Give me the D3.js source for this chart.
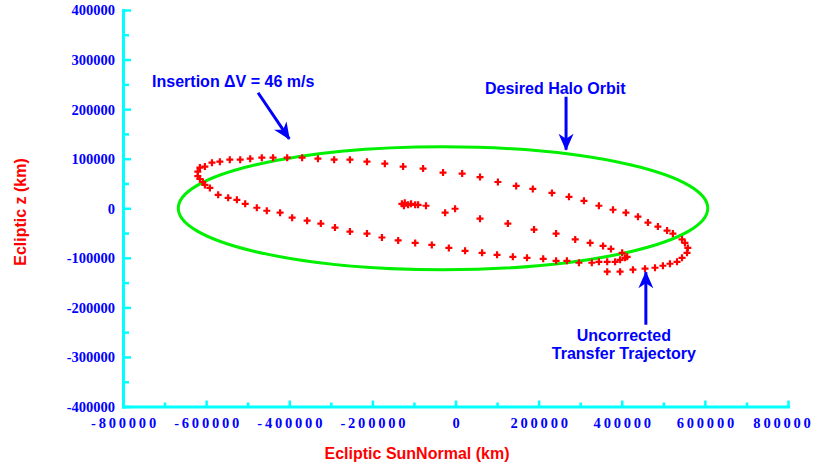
<!DOCTYPE html>
<html>
<head>
<meta charset="utf-8">
<script src="https://cdn.jsdelivr.net/npm/d3@7"></script>
<style>
  html, body { margin: 0; padding: 0; background: #fff; }
  svg { display: block; }
</style>
</head>
<body>
<div id="chart"></div>
<script>
// --- data (km) ---
const xTicks = [-800000, -600000, -400000, -200000, 0, 200000, 400000, 600000, 800000];
const xMinorTicks = [-700000, -500000, -300000, -100000, 100000, 300000, 500000, 700000];
const yTicks = [-400000, -300000, -200000, -100000, 0, 100000, 200000, 300000, 400000];
const yMinorTicks = [-350000, -250000, -150000, -50000, 50000, 150000, 250000, 350000];

// departure leg, from the insertion point outwards
const departX = [-129000, -122000, -114000, -107000, -124000, -97000, -90000, -71000, -25000, -1000,
  59000, 126000, 189000, 242000, 288000, 324000, 355000, 374000, 401000, 413000];
const departZ = [9000, 11000, 7000, 9000, 5000, 7000, 7000, 5000, -9000, -1000,
  -21000, -31000, -43000, -51000, -63000, -70000, -76000, -82000, -90000, -98000];

// far side loop + upper arc back to the left
const loopX = [365000, 396000, 427000, 456000, 480000, 499000, 516000, 533000, 545000, 557000,
  559000, 552000, 545000, 523000, 509000, 487000, 463000, 439000, 410000, 379000,
  345000, 309000, 273000, 232000, 186000, 146000, 102000, 59000, 16000, -30000,
  -78000, -126000, -170000, -213000, -254000, -292000, -331000, -369000, -405000, -439000,
  -466000, -494000, -518000, -543000, -567000, -586000, -603000, -615000, -620000, -620000,
  -615000, -608000];
const loopZ = [-128000, -128000, -124000, -122000, -120000, -116000, -112000, -108000, -100000, -90000,
  -80000, -70000, -63000, -51000, -45000, -37000, -29000, -17000, -9000, -3000,
  5000, 15000, 23000, 31000, 39000, 45000, 53000, 63000, 70000, 72000,
  80000, 84000, 90000, 94000, 98000, 98000, 100000, 102000, 102000, 102000,
  102000, 100000, 98000, 98000, 94000, 92000, 84000, 82000, 74000, 65000,
  59000, 53000];

// lower arc going right again
const returnX = [-603000, -591000, -571000, -547000, -526000, -506000, -478000, -454000, -422000, -393000,
  -357000, -324000, -290000, -254000, -213000, -177000, -138000, -97000, -57000, -16000,
  23000, 64000, 100000, 138000, 172000, 211000, 242000, 268000, 297000, 328000,
  345000, 365000, 384000, 396000, 408000];
const returnZ = [47000, 41000, 27000, 21000, 17000, 9000, 1000, -5000, -9000, -19000,
  -25000, -31000, -39000, -47000, -51000, -59000, -65000, -70000, -74000, -80000,
  -86000, -90000, -94000, -98000, -100000, -102000, -106000, -106000, -110000, -110000,
  -108000, -108000, -108000, -104000, -100000];

// desired halo orbit (ellipse)
const haloCenter = [-30000, 0];
const haloRadius = [637000, 124000];

// annotations, anchored in data space
const notes = [
  { lines: ['Insertion \u0394V = 46 m/s'], x: -730000, y: 245000, anchor: 'start',
    arrow: [[-475000, 233000], [-400000, 140000]] },
  { lines: ['Desired Halo Orbit'], x: 240000, y: 231000, anchor: 'middle',
    arrow: [[266000, 225000], [266000, 118000]] },
  { lines: ['Uncorrected', 'Transfer Trajectory'], x: 405000, y: -268000, anchor: 'middle',
    arrow: [[458000, -235000], [458000, -129000]] }
];

const W = 817, H = 465;
const CYAN = '#00FFFF', BLUE = '#0000FF', RED = '#FF0000', GREEN = '#00F000';

const svg = d3.select('#chart').append('svg')
  .attr('width', W).attr('height', H);

svg.append('rect').attr('width', W).attr('height', H).attr('fill', '#fff');

const x = d3.scaleLinear().domain([-800000, 800000]).range([123, 788]);
const y = d3.scaleLinear().domain([-400000, 400000]).range([406.5, 10]);

const defs = svg.append('defs');
defs.append('marker')
  .attr('id', 'arrowhead')
  .attr('viewBox', '-18 -9 20 18')
  .attr('refX', 0).attr('refY', 0)
  .attr('markerWidth', 20).attr('markerHeight', 18)
  .attr('markerUnits', 'userSpaceOnUse')
  .attr('orient', 'auto')
  .append('path')
  .attr('d', 'M1,0 L-16,-7.5 L-11,0 L-16,7.5 Z')
  .attr('fill', BLUE);

// --- halo orbit ---
svg.append('ellipse')
  .attr('cx', x(haloCenter[0]))
  .attr('cy', y(haloCenter[1]))
  .attr('rx', x(haloCenter[0] + haloRadius[0]) - x(haloCenter[0]))
  .attr('ry', y(haloCenter[1]) - y(haloCenter[1] + haloRadius[1]))
  .attr('fill', 'none')
  .attr('stroke', GREEN)
  .attr('stroke-width', 3);

// --- trajectory points ---
const legs = [[departX, departZ], [loopX, loopZ], [returnX, returnZ]];
const pts = [];
legs.forEach(([xs, zs]) => xs.forEach((v, i) => pts.push({ x: v, z: zs[i] })));

svg.append('g')
  .selectAll('path')
  .data(pts)
  .join('path')
  .attr('transform', d => `translate(${x(d.x)},${y(d.z)})`)
  .attr('d', 'M-3.5,0H3.5M0,-3.5V3.5')
  .attr('stroke', RED)
  .attr('stroke-width', 2.2)
  .attr('fill', 'none');

// --- axes ---
const plainNum = d => String(d); // hyphen minus, like the original

const xAxis = svg.append('g')
  .attr('transform', `translate(0,${y(-400000)})`)
  .call(d3.axisBottom(x).tickValues(xTicks).tickSize(-6).tickSizeOuter(0).tickFormat(plainNum));
svg.append('g')
  .attr('transform', `translate(0,${y(-400000)})`)
  .call(d3.axisBottom(x).tickValues(xMinorTicks).tickSize(-4).tickSizeOuter(0).tickFormat(''))
  .call(g => g.select('.domain').remove());

const yAxis = svg.append('g')
  .attr('transform', `translate(${x(-800000)},0)`)
  .call(d3.axisLeft(y).tickValues(yTicks).tickSize(-8).tickSizeOuter(0).tickPadding(8)
    .tickFormat(plainNum));
svg.append('g')
  .attr('transform', `translate(${x(-800000)},0)`)
  .call(d3.axisLeft(y).tickValues(yMinorTicks).tickSize(-6).tickSizeOuter(0).tickFormat(''))
  .call(g => g.select('.domain').remove());

svg.selectAll('.tick line').attr('stroke', CYAN).attr('stroke-width', 2.5);
[xAxis, yAxis].forEach(a => a.select('.domain')
  .attr('stroke', CYAN).attr('stroke-width', 3).attr('stroke-linecap', 'square'));

svg.selectAll('.tick text')
  .attr('fill', BLUE)
  .style('font-family', '"Liberation Serif", "Times New Roman", serif')
  .style('font-weight', 'bold')
  .style('font-size', '14.5px');

xAxis.selectAll('.tick text')
  .attr('y', 21).attr('dy', 0)
  .attr('dx', d => d === 800000 ? -5 : 1.5)
  .style('letter-spacing', '2.8px');

yAxis.selectAll('.tick text').attr('dy', '0.34em');

// --- axis titles ---
const sans = '"Liberation Sans", Arial, Helvetica, sans-serif';
svg.append('text')
  .attr('x', 417).attr('y', 459)
  .attr('text-anchor', 'middle')
  .attr('fill', RED)
  .style('font-family', sans).style('font-weight', 'bold').style('font-size', '16px')
  .text('Ecliptic SunNormal (km)');

svg.append('text')
  .attr('transform', 'translate(26,212) rotate(-90)')
  .attr('text-anchor', 'middle')
  .attr('fill', RED)
  .style('font-family', sans).style('font-weight', 'bold').style('font-size', '16px')
  .text('Ecliptic z (km)');

// --- annotations ---
notes.forEach(n => {
  const t = svg.append('text')
    .attr('x', x(n.x)).attr('y', y(n.y))
    .attr('text-anchor', n.anchor)
    .attr('fill', BLUE)
    .style('font-family', sans).style('font-weight', 'bold').style('font-size', '16px');
  n.lines.forEach((l, i) => t.append('tspan')
    .attr('x', x(n.x)).attr('dy', i === 0 ? 0 : 18).text(l));

  svg.append('line')
    .attr('x1', x(n.arrow[0][0])).attr('y1', y(n.arrow[0][1]))
    .attr('x2', x(n.arrow[1][0])).attr('y2', y(n.arrow[1][1]))
    .attr('stroke', BLUE)
    .attr('stroke-width', 3)
    .attr('marker-end', 'url(#arrowhead)');
});
</script>
</body>
</html>
